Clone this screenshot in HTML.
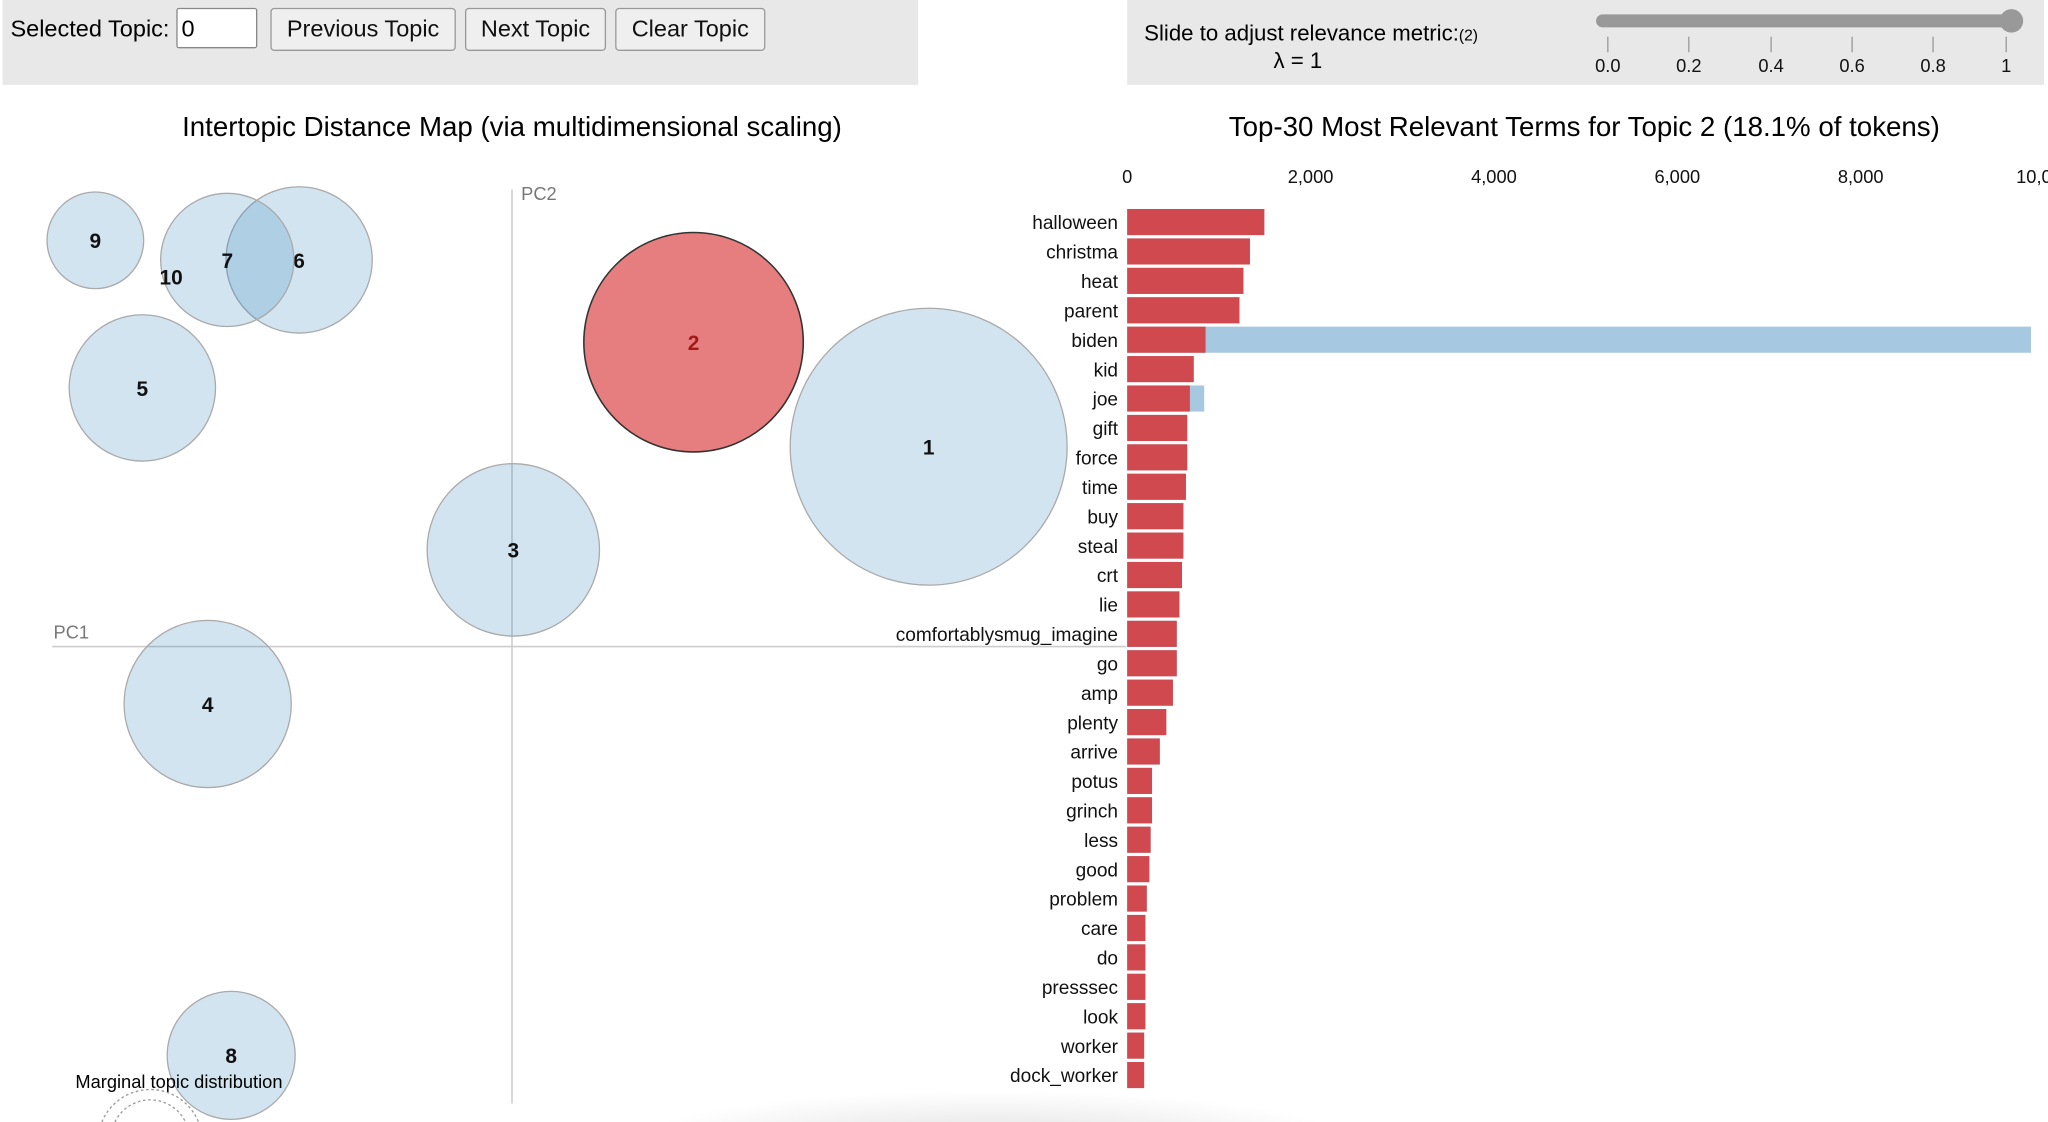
<!DOCTYPE html>
<html><head><meta charset="utf-8">
<style>
html,body{margin:0;padding:0;background:#fff;overflow:hidden}
#wrap{width:1568px;height:859px;transform:scale(1.30612);transform-origin:0 0;position:relative;font-family:"Liberation Sans",Arial,sans-serif}
.panel{position:absolute;background:#e8e8e8}
.btn{position:absolute;top:6px;height:31px;border:1px solid #999;border-radius:3px;background:#efefef;font-size:18px;line-height:31px;text-align:center;color:#111}
svg text{font-family:"Liberation Sans",Arial,sans-serif}
</style></head><body>
<div id="wrap">
<div class="panel" style="left:2px;top:0;width:701px;height:65px">
  <div style="position:absolute;left:6px;top:12px;font-size:18px">Selected Topic:</div>
  <div style="position:absolute;left:133px;top:6px;width:62px;height:31px;background:#fff;border:1px solid #888;border-radius:2px;font-size:18px;line-height:31px;padding-left:3px;box-sizing:border-box">0</div>
  <div class="btn" style="left:205px;width:140px">Previous Topic</div>
  <div class="btn" style="left:354px;width:106px">Next Topic</div>
  <div class="btn" style="left:469px;width:113px">Clear Topic</div>
</div>
<div class="panel" style="left:863px;top:0;width:702px;height:65px">
  <div style="position:absolute;left:13px;top:16px;font-size:17px">Slide to adjust relevance metric:<span style="font-size:12px">(2)</span></div>
  <div style="position:absolute;left:112px;top:37px;font-size:17px">λ = 1</div>
  <div style="position:absolute;left:359px;top:11px;width:322px;height:10px;background:#999;border-radius:5px"></div>
  <div style="position:absolute;left:668px;top:7px;width:18px;height:18px;background:#999;border-radius:50%"></div>
  <svg style="position:absolute;left:0;top:0" width="702" height="65">
    <g fill="#111" font-size="14" text-anchor="middle">
      <line x1="368" y1="28" x2="368" y2="40" stroke="#999"/><text x="368" y="55">0.0</text>
      <line x1="430" y1="28" x2="430" y2="40" stroke="#999"/><text x="430" y="55">0.2</text>
      <line x1="493" y1="28" x2="493" y2="40" stroke="#999"/><text x="493" y="55">0.4</text>
      <line x1="555" y1="28" x2="555" y2="40" stroke="#999"/><text x="555" y="55">0.6</text>
      <line x1="617" y1="28" x2="617" y2="40" stroke="#999"/><text x="617" y="55">0.8</text>
      <line x1="673" y1="28" x2="673" y2="40" stroke="#999"/><text x="673" y="55">1</text>
    </g>
  </svg>
</div>
<div style="position:absolute;left:480px;top:835px;width:560px;height:40px;background:radial-gradient(ellipse at 50% 100%,rgba(0,0,0,0.12),rgba(0,0,0,0) 70%)"></div>
<svg id="chart" style="position:absolute;left:0;top:0" width="1568" height="859">
  <text x="392" y="104" font-size="21.2" text-anchor="middle">Intertopic Distance Map (via multidimensional scaling)</text>
  <text x="1213" y="104" font-size="21.2" text-anchor="middle">Top-30 Most Relevant Terms for Topic 2 (18.1% of tokens)</text>
  <line x1="392" y1="145" x2="392" y2="845" stroke="#ccc" stroke-width="1.2"/>
  <line x1="40" y1="495" x2="862" y2="495" stroke="#ccc" stroke-width="1.2"/>
  <text x="41" y="489" font-size="14" fill="#777">PC1</text>
  <text x="399" y="153" font-size="14" fill="#777">PC2</text>
  <g id="circles"></g>
  <text x="137" y="833" font-size="14" text-anchor="middle">Marginal topic distribution</text>
  <path d="M78 859 A40 40 0 0 1 152 859" fill="none" stroke="#999" stroke-dasharray="2,2"/>
  <path d="M88 859 A30 30 0 0 1 142 859" fill="none" stroke="#999" stroke-dasharray="2,2"/>
  <g id="xaxis"></g>
  <g id="bars"></g>
</svg>
</div>
<script>
// Topic map data
const topicIds = [1,2,3,4,5,6,7,8,9,10];
const topicX = [711,531,393,159,109,229,174,177,73,131];
const topicY = [342,262,421,539,297,199,199,808,184,212];
const topicR = [106,84,66,64,56,56,51,49,37,0];
// Bar data
const terms = ["halloween","christma","heat","parent","biden","kid","joe","gift","force","time","buy","steal","crt","lie","comfortablysmug_imagine","go","amp","plenty","arrive","potus","grinch","less","good","problem","care","do","presssec","look","worker","dock_worker"];
const topicFreq = [1496,1339,1268,1225,855,726,684,655,655,641,613,613,598,570,541,541,499,427,356,271,271,256,242,214,199,199,199,199,185,185];
const totalFreq = [1496,1339,1268,1225,9858,726,840,655,655,641,613,613,598,570,541,541,499,427,356,271,271,256,242,214,199,199,199,199,185,185];
const xTicks = [0,2000,4000,6000,8000,10000];
const xTickLabels = ["0","2,000","4,000","6,000","8,000","10,000"];

const NS="http://www.w3.org/2000/svg";
function mk(t,a,p){const e=document.createElementNS(NS,t);for(const k in a)e.setAttribute(k,a[k]);p.appendChild(e);return e;}
const gc=document.getElementById('circles');
topicIds.forEach((id,i)=>{
  const sel=id===2;
  if(topicR[i]>0){
    const c=mk('circle',{cx:topicX[i],cy:topicY[i],r:topicR[i],fill:sel?'#d62728':'#1f77b4','fill-opacity':sel?0.6:0.2,stroke:sel?'#333':'#aaa','stroke-width':sel?1.2:1},gc);
    
    
  }
  const t=mk('text',{x:topicX[i],y:topicY[i]+6,'font-size':16,'font-weight':'bold','text-anchor':'middle',fill:sel?'#a01a1a':'#111'},gc);
  t.textContent=id;
  
  
});
const x0=863, pxPer=702/10000;
const xs=v=>x0+v*pxPer;
const y0=170, step=22.52, bh=20;
const ys=i=>y0+i*step;
const gx=document.getElementById('xaxis');
xTicks.forEach((v,i)=>{
  const t=mk('text',{x:xs(v),y:140,'font-size':14,'text-anchor':'middle',fill:'#111'},gx);
  t.textContent=xTickLabels[i];
  
  
});
const gb=document.getElementById('bars');
terms.forEach((term,i)=>{
  const b=mk('rect',{x:x0,y:ys(i)-bh/2,width:xs(totalFreq[i])-x0,height:bh,fill:'#a6c8e1'},gb);
  
  
  const r=mk('rect',{x:x0,y:ys(i)-bh/2,width:xs(topicFreq[i])-x0,height:bh,fill:'#d0494e'},gb);
  
  
  const t=mk('text',{x:856,y:ys(i)+5.5,'font-size':14.6,'text-anchor':'end',fill:'#111'},gb);
  t.textContent=term;
  
  
});
</script>
</body></html>
